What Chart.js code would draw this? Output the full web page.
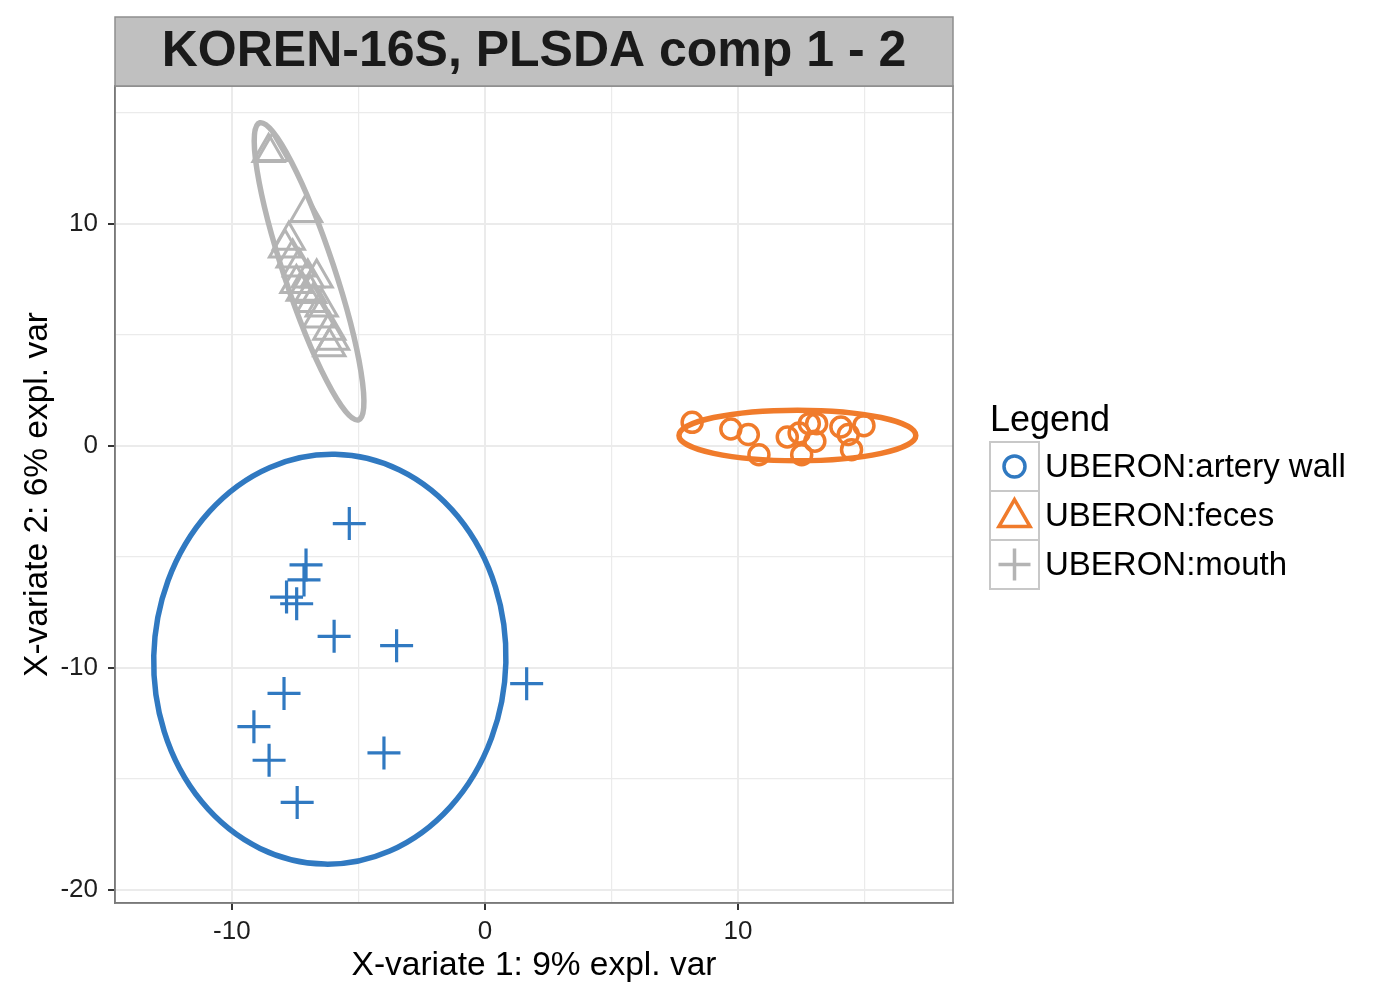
<!DOCTYPE html>
<html>
<head>
<meta charset="utf-8">
<title>KOREN-16S, PLSDA comp 1 - 2</title>
<script src="https://cdn.jsdelivr.net/npm/chart.js@4.4.1/dist/chart.umd.min.js"></script>
<style>
    html, body { margin: 0; padding: 0; background: #ffffff; }
    #wrap { width: 1400px; height: 1000px; }
</style>
</head>
<body>
<div id="wrap"><canvas id="plsdaChart" width="1400" height="1000"></canvas></div>
<script>
const chartTitle = "KOREN-16S, PLSDA comp 1 - 2";
const xAxisTitle = "X-variate 1: 9% expl. var";
const yAxisTitle = "X-variate 2: 6% expl. var";

const xTickLabels = [-10, 0, 10];
const yTickLabels = [10, 0, -10, -20];

// blue crosses
const crossX = [-5.36, -7.07, -7.15, -7.84, -7.44, -5.96, -3.49, 1.65, -7.94, -9.13, -3.99, -8.53, -7.42];
const crossY = [-3.51, -5.37, -6.05, -6.82, -7.12, -8.59, -9.01, -10.72, -11.16, -12.66, -13.84, -14.17, -16.07];

// orange circles
const circleX = [8.19, 9.72, 10.41, 10.83, 11.95, 12.42, 12.82, 13.11, 13.04, 12.52, 14.07, 14.36, 14.98, 14.49];
const circleY = [1.05, 0.75, 0.50, -0.41, 0.39, 0.57, 0.99, 0.99, 0.20, -0.41, 0.84, 0.50, 0.90, -0.18];

// grey triangles
const triangleX = [-8.55, -8.40, -7.07, -7.75, -7.90, -7.60, -7.35, -6.65, -7.45, -7.20, -6.90, -6.45, -6.55, -6.15, -6.00, -6.15, -7.00, -6.80];
const triangleY = [13.20, 13.25, 10.50, 9.25, 8.90, 8.45, 8.05, 7.55, 7.30, 6.95, 6.85, 6.25, 5.75, 5.20, 4.75, 4.45, 7.55, 6.45];

// confidence ellipses: blue, orange, grey
const ellipseCenterX = [-6.13, 12.35, -6.95];
const ellipseCenterY = [-9.62, 0.46, 7.85];
const ellipseSemiMajor = [9.23, 4.68, 6.97];
const ellipseSemiMinor = [6.96, 1.14, 1.0];
const ellipseAngle = [88.7, 0, 106.2];

const legendTitle = "Legend";
const legendLabels = ["UBERON:artery wall", "UBERON:feces", "UBERON:mouth"];
const legendShapes = ["circle", "triangle", "cross"];

const blue = "#3079c1";
const orange = "#f07b2b";
const grey = "#b4b4b4";
const ellipseColors = [blue, orange, grey];
const legendColors = [blue, orange, grey];

const fontFamily = "'Liberation Sans', Arial, Helvetica, sans-serif";

function toPoints(xs, ys) {
    return xs.map((x, i) => ({ x: x, y: ys[i] }));
}

function drawMarker(ctx, shape, x, y, r) {
    ctx.beginPath();
    if (shape === "circle") {
        ctx.arc(x, y, r, 0, Math.PI * 2);
    } else if (shape === "triangle") {
        for (let k = 0; k < 3; k++) {
            const a = k * 2 * Math.PI / 3;
            const px = x + Math.sin(a) * r;
            const py = y - Math.cos(a) * r;
            if (k === 0) ctx.moveTo(px, py); else ctx.lineTo(px, py);
        }
        ctx.closePath();
    } else {
        ctx.moveTo(x - r, y);
        ctx.lineTo(x + r, y);
        ctx.moveTo(x, y - r);
        ctx.lineTo(x, y + r);
    }
    ctx.stroke();
}

const panelPlugin = {
    id: "panelPlugin",
    afterDatasetsDraw(chart) {
        const ctx = chart.ctx;
        const area = chart.chartArea;
        const xs = chart.scales.x;
        const ys = chart.scales.y;

        ellipseCenterX.forEach((cx, i) => {
            const cy = ellipseCenterY[i];
            const px = xs.getPixelForValue(cx);
            const py = ys.getPixelForValue(cy);
            const kx = xs.getPixelForValue(cx + 1) - px;
            const ky = ys.getPixelForValue(cy + 1) - py;

            ctx.save();
            ctx.beginPath();
            ctx.rect(area.left, area.top, area.right - area.left, area.bottom - area.top);
            ctx.clip();

            ctx.beginPath();
            ctx.save();
            ctx.translate(px, py);
            ctx.scale(kx, ky);
            ctx.ellipse(0, 0, ellipseSemiMajor[i], ellipseSemiMinor[i], ellipseAngle[i] * Math.PI / 180, 0, Math.PI * 2);
            ctx.restore();
            ctx.lineWidth = 5.5;
            ctx.strokeStyle = ellipseColors[i];
            ctx.stroke();
            ctx.restore();
        });
    },
    afterDraw(chart) {
        const ctx = chart.ctx;
        const area = chart.chartArea;

        ctx.save();

        // panel border
        ctx.strokeStyle = "#7a7a7a";
        ctx.lineWidth = 1.5;
        ctx.strokeRect(area.left, area.top, area.right - area.left, area.bottom - area.top);

        // title strip
        const stripTop = 17;
        ctx.fillStyle = "#c0c0c0";
        ctx.fillRect(area.left, stripTop, area.right - area.left, area.top - stripTop);
        ctx.strokeStyle = "#8e8e8e";
        ctx.lineWidth = 1.5;
        ctx.strokeRect(area.left, stripTop, area.right - area.left, area.top - stripTop);

        ctx.fillStyle = "#1a1a1a";
        ctx.font = "bold 50px " + fontFamily;
        ctx.textAlign = "center";
        ctx.textBaseline = "middle";
        ctx.fillText(chartTitle, (area.left + area.right) / 2, (stripTop + area.top) / 2 + 1);

        // legend
        const keyLeft = 990;
        const keySize = 49;
        const keyTop = 442;

        ctx.textAlign = "left";
        ctx.textBaseline = "alphabetic";
        ctx.fillStyle = "#000000";
        ctx.font = "36px " + fontFamily;
        ctx.fillText(legendTitle, keyLeft, 431);

        ctx.font = "33px " + fontFamily;
        legendLabels.forEach((label, i) => {
            const top = keyTop + i * keySize;
            ctx.fillStyle = "#ffffff";
            ctx.fillRect(keyLeft, top, keySize, keySize);
            ctx.strokeStyle = "#c8c8c8";
            ctx.lineWidth = 2;
            ctx.strokeRect(keyLeft, top, keySize, keySize);

            const cx = keyLeft + keySize / 2;
            const cy = top + keySize / 2;
            ctx.strokeStyle = legendColors[i];
            ctx.lineWidth = 3.5;
            const r = legendShapes[i] === "circle" ? 10.5 : (legendShapes[i] === "triangle" ? 18 : 16);
            drawMarker(ctx, legendShapes[i], cx, legendShapes[i] === "triangle" ? cy + 2 : cy, r);

            ctx.fillStyle = "#000000";
            ctx.textBaseline = "middle";
            ctx.fillText(label, keyLeft + keySize + 6, cy + 1);
        });

        ctx.restore();
    }
};

const ctx = document.getElementById("plsdaChart").getContext("2d");

const plsdaChart = new Chart(ctx, {
    type: "scatter",
    data: {
        datasets: [
            {
                label: "triangles",
                data: toPoints(triangleX, triangleY),
                pointStyle: "triangle",
                pointRadius: 18,
                borderWidth: 3,
                borderColor: grey,
                backgroundColor: "rgba(0,0,0,0)"
            },
            {
                label: "circles",
                data: toPoints(circleX, circleY),
                pointStyle: "circle",
                pointRadius: 10,
                borderWidth: 3.5,
                borderColor: orange,
                backgroundColor: "rgba(0,0,0,0)"
            },
            {
                label: "crosses",
                data: toPoints(crossX, crossY),
                pointStyle: "cross",
                pointRadius: 16.5,
                borderWidth: 3.2,
                borderColor: blue,
                backgroundColor: "rgba(0,0,0,0)"
            }
        ]
    },
    options: {
        responsive: false,
        animation: false,
        events: [],
        layout: {
            padding: { top: 86, right: 447, bottom: 0, left: 0 }
        },
        plugins: {
            legend: { display: false },
            title: { display: false },
            tooltip: { enabled: false }
        },
        scales: {
            x: {
                type: "linear",
                min: -14.62,
                max: 18.5,
                afterFit: function(scale) { scale.height = 97; },
                ticks: {
                    stepSize: 5,
                    includeBounds: false,
                    autoSkip: false,
                    maxRotation: 0,
                    padding: 6,
                    color: "#1e1e1e",
                    font: { family: fontFamily, size: 26 },
                    callback: function(value) {
                        return xTickLabels.includes(value) ? String(value) : "";
                    }
                },
                grid: {
                    color: "#ebebeb",
                    lineWidth: (c) => (c.tick && xTickLabels.includes(c.tick.value) ? 2 : 1.2),
                    tickLength: 7,
                    tickWidth: 2,
                    tickColor: (c) => (c.tick && xTickLabels.includes(c.tick.value) ? "#333333" : "rgba(0,0,0,0)")
                },
                border: { display: true, color: "#7a7a7a", width: 1.5 },
                title: {
                    display: true,
                    text: xAxisTitle,
                    color: "#000000",
                    font: { family: fontFamily, size: 33.5 },
                    padding: { top: 0, bottom: 14 }
                }
            },
            y: {
                type: "linear",
                min: -20.6,
                max: 16.2,
                afterFit: function(scale) { scale.width = 115; },
                ticks: {
                    stepSize: 5,
                    includeBounds: false,
                    autoSkip: false,
                    padding: 10,
                    color: "#1e1e1e",
                    font: { family: fontFamily, size: 26 },
                    callback: function(value) {
                        return yTickLabels.includes(value) ? String(value) : "";
                    }
                },
                grid: {
                    color: "#ebebeb",
                    lineWidth: (c) => (c.tick && yTickLabels.includes(c.tick.value) ? 2 : 1.2),
                    tickLength: 7,
                    tickWidth: 2,
                    tickColor: (c) => (c.tick && yTickLabels.includes(c.tick.value) ? "#333333" : "rgba(0,0,0,0)")
                },
                border: { display: true, color: "#7a7a7a", width: 1.5 },
                title: {
                    display: true,
                    text: yAxisTitle,
                    color: "#000000",
                    font: { family: fontFamily, size: 33.5 },
                    padding: { top: 18, bottom: 0 }
                }
            }
        }
    },
    plugins: [panelPlugin]
});
</script>
</body>
</html>
